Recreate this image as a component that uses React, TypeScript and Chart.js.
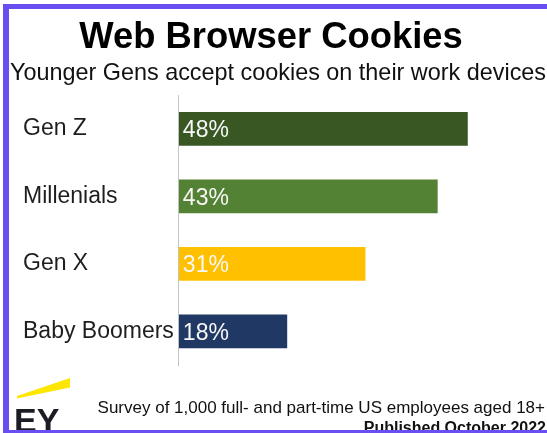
import { useEffect, useRef } from 'react';
import { Chart, registerables } from 'chart.js';

Chart.register(...registerables);

const categories = ['Gen Z', 'Millenials', 'Gen X', 'Baby Boomers'];
const values = [48, 43, 31, 18];
const barColors = ['#385723', '#548235', '#FFC000', '#1F3864'];
const titleText = 'Web Browser Cookies';
const subtitleText = 'Younger Gens accept cookies on their work devices';
const footerNote = 'Survey of 1,000 full- and part-time US employees aged 18+';
const footerDate = 'Published October 2022';
const logoText = 'EY';

const FONT = "'Liberation Sans', Arial, Helvetica, sans-serif";

const valueLabelPlugin = {
  id: 'valueLabels',
  afterDatasetsDraw(chart: any) {
    const ctx = chart.ctx;
    const meta = chart.getDatasetMeta(0);
    ctx.save();
    ctx.font = `23px ${FONT}`;
    ctx.fillStyle = '#f7f7f7';
    ctx.textAlign = 'left';
    ctx.textBaseline = 'middle';
    meta.data.forEach((bar: any, i: number) => {
      ctx.fillText(`${values[i]}%`, bar.base + 4, bar.y + 2);
    });
    ctx.restore();
  },
};

const decorPlugin = {
  id: 'decor',
  afterDraw(chart: any) {
    const ctx = chart.ctx;
    ctx.save();
    ctx.textBaseline = 'alphabetic';
    // Title
    ctx.fillStyle = '#000000';
    ctx.textAlign = 'center';
    ctx.font = `bold 36.4px ${FONT}`;
    ctx.fillText(titleText, 271, 48);
    // Subtitle
    ctx.font = `23.4px ${FONT}`;
    ctx.fillStyle = '#111111';
    ctx.fillText(subtitleText, 278, 80);
    // Footer
    ctx.textAlign = 'right';
    ctx.font = `17px ${FONT}`;
    ctx.fillText(footerNote, 545, 412.5);
    ctx.font = `bold 16px ${FONT}`;
    ctx.fillText(footerDate, 546, 433);
    // Logo beam
    ctx.fillStyle = '#FFE600';
    ctx.beginPath();
    ctx.moveTo(17, 396);
    ctx.lineTo(70, 378);
    ctx.lineTo(70, 387.5);
    ctx.lineTo(17, 398.5);
    ctx.closePath();
    ctx.fill();
    // Logo text
    ctx.textAlign = 'left';
    ctx.fillStyle = '#1c1c24';
    ctx.font = `bold 34px ${FONT}`;
    ctx.fillText(logoText, 14, 431.5);
    // Frame
    ctx.fillStyle = '#6b4ef2';
    ctx.fillRect(3, 4, 6, 429);
    ctx.fillRect(3, 4, 544, 5);
    ctx.fillRect(3, 430, 544, 3);
    ctx.restore();
  },
};

export default function App() {
  const canvasRef = useRef<HTMLCanvasElement | null>(null);

  useEffect(() => {
    if (!canvasRef.current) return;
    const chart = new Chart(canvasRef.current, {
      type: 'bar',
      data: {
        labels: categories,
        datasets: [
          {
            data: values,
            backgroundColor: barColors,
            borderWidth: 0,
            barPercentage: 0.5,
            categoryPercentage: 1,
          },
        ],
      },
      options: {
        indexAxis: 'y',
        responsive: false,
        animation: false,
        devicePixelRatio: 1,
        layout: { padding: { top: 95, bottom: 68, left: 23, right: 7 } },
        plugins: {
          legend: { display: false },
          title: { display: false },
          tooltip: { enabled: false },
        },
        scales: {
          x: { min: 0, max: 60, display: false },
          y: {
            grid: { display: false, drawTicks: false },
            border: { display: true, color: '#c4c4c4', width: 1 },
            ticks: {
              color: '#1e1e1e',
              font: { family: FONT, size: 23 },
              crossAlign: 'far',
              padding: 2.5,
              autoSkip: false,
            },
          },
        },
      },
      plugins: [valueLabelPlugin, decorPlugin],
    } as any);
    return () => chart.destroy();
  }, []);

  return (
    <div style={{ position: 'fixed', left: 0, top: 0, width: 547, height: 433, background: '#ffffff' }}>
      <canvas ref={canvasRef} width={547} height={433} />
    </div>
  );
}
